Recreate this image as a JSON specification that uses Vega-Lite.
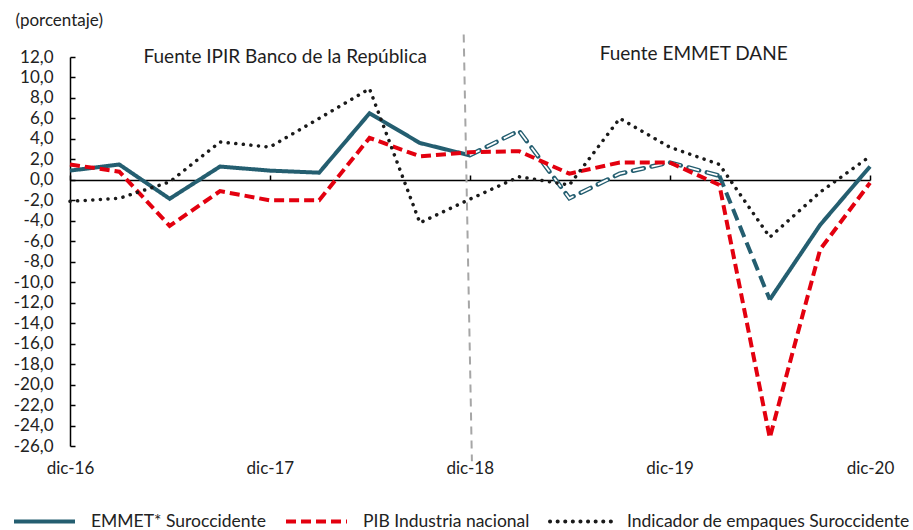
{
  "$schema": "https://vega.github.io/schema/vega-lite/v6.json",
  "width": 800,
  "height": 389,
  "autosize": {"type": "none"},
  "padding": {"left": 70, "top": 57, "right": 43, "bottom": 84},
  "background": "white",
  "config": {
    "font": "Lato",
    "view": {"stroke": null},
    "axis": {"labelFont": "Lato", "labelColor": "#222222", "titleFont": "Lato", "grid": false}
  },
  "datasets": {
    "lineas": [
      {"fecha": "2016-12-01", "serie": "PIB Industria nacional", "valor": 1.5},
      {"fecha": "2017-03-01", "serie": "PIB Industria nacional", "valor": 0.8},
      {"fecha": "2017-06-01", "serie": "PIB Industria nacional", "valor": -4.5},
      {"fecha": "2017-09-01", "serie": "PIB Industria nacional", "valor": -1.1},
      {"fecha": "2017-12-01", "serie": "PIB Industria nacional", "valor": -2.0},
      {"fecha": "2018-03-01", "serie": "PIB Industria nacional", "valor": -2.0},
      {"fecha": "2018-06-01", "serie": "PIB Industria nacional", "valor": 4.1},
      {"fecha": "2018-09-01", "serie": "PIB Industria nacional", "valor": 2.3},
      {"fecha": "2018-12-01", "serie": "PIB Industria nacional", "valor": 2.7},
      {"fecha": "2019-03-01", "serie": "PIB Industria nacional", "valor": 2.8},
      {"fecha": "2019-06-01", "serie": "PIB Industria nacional", "valor": 0.6},
      {"fecha": "2019-09-01", "serie": "PIB Industria nacional", "valor": 1.7},
      {"fecha": "2019-12-01", "serie": "PIB Industria nacional", "valor": 1.7},
      {"fecha": "2020-03-01", "serie": "PIB Industria nacional", "valor": -0.5},
      {"fecha": "2020-06-01", "serie": "PIB Industria nacional", "valor": -25.2},
      {"fecha": "2020-09-01", "serie": "PIB Industria nacional", "valor": -6.8},
      {"fecha": "2020-12-01", "serie": "PIB Industria nacional", "valor": -0.3},
      {"fecha": "2016-12-01", "serie": "Indicador de empaques Suroccidente", "valor": -2.1},
      {"fecha": "2017-03-01", "serie": "Indicador de empaques Suroccidente", "valor": -1.8},
      {"fecha": "2017-06-01", "serie": "Indicador de empaques Suroccidente", "valor": -0.2},
      {"fecha": "2017-09-01", "serie": "Indicador de empaques Suroccidente", "valor": 3.7},
      {"fecha": "2017-12-01", "serie": "Indicador de empaques Suroccidente", "valor": 3.2},
      {"fecha": "2018-03-01", "serie": "Indicador de empaques Suroccidente", "valor": 6.0},
      {"fecha": "2018-06-01", "serie": "Indicador de empaques Suroccidente", "valor": 8.9},
      {"fecha": "2018-09-01", "serie": "Indicador de empaques Suroccidente", "valor": -4.2},
      {"fecha": "2018-12-01", "serie": "Indicador de empaques Suroccidente", "valor": -1.9},
      {"fecha": "2019-03-01", "serie": "Indicador de empaques Suroccidente", "valor": 0.3},
      {"fecha": "2019-06-01", "serie": "Indicador de empaques Suroccidente", "valor": -0.5},
      {"fecha": "2019-09-01", "serie": "Indicador de empaques Suroccidente", "valor": 6.0},
      {"fecha": "2019-12-01", "serie": "Indicador de empaques Suroccidente", "valor": 3.2},
      {"fecha": "2020-03-01", "serie": "Indicador de empaques Suroccidente", "valor": 1.5},
      {"fecha": "2020-06-01", "serie": "Indicador de empaques Suroccidente", "valor": -5.6},
      {"fecha": "2020-09-01", "serie": "Indicador de empaques Suroccidente", "valor": -1.2},
      {"fecha": "2020-12-01", "serie": "Indicador de empaques Suroccidente", "valor": 2.3}
    ],
    "emmet": [
      {"fecha": "2016-12-01", "serie": "EMMET* Suroccidente", "tramo": "a", "valor": 0.9},
      {"fecha": "2017-03-01", "serie": "EMMET* Suroccidente", "tramo": "a", "valor": 1.5},
      {"fecha": "2017-06-01", "serie": "EMMET* Suroccidente", "tramo": "a", "valor": -1.85},
      {"fecha": "2017-09-01", "serie": "EMMET* Suroccidente", "tramo": "a", "valor": 1.3},
      {"fecha": "2017-12-01", "serie": "EMMET* Suroccidente", "tramo": "a", "valor": 0.9},
      {"fecha": "2018-03-01", "serie": "EMMET* Suroccidente", "tramo": "a", "valor": 0.7},
      {"fecha": "2018-06-01", "serie": "EMMET* Suroccidente", "tramo": "a", "valor": 6.5},
      {"fecha": "2018-09-01", "serie": "EMMET* Suroccidente", "tramo": "a", "valor": 3.6},
      {"fecha": "2018-12-01", "serie": "EMMET* Suroccidente", "tramo": "a", "valor": 2.4},
      {"fecha": "2018-12-01", "serie": "EMMET* Suroccidente", "tramo": "b", "valor": 2.4},
      {"fecha": "2019-03-01", "serie": "EMMET* Suroccidente", "tramo": "b", "valor": 4.8},
      {"fecha": "2019-06-01", "serie": "EMMET* Suroccidente", "tramo": "b", "valor": -1.8},
      {"fecha": "2019-09-01", "serie": "EMMET* Suroccidente", "tramo": "b", "valor": 0.6},
      {"fecha": "2019-12-01", "serie": "EMMET* Suroccidente", "tramo": "b", "valor": 1.7},
      {"fecha": "2020-03-01", "serie": "EMMET* Suroccidente", "tramo": "b", "valor": 0.4},
      {"fecha": "2020-03-01", "serie": "EMMET* Suroccidente", "tramo": "c", "valor": 0.4},
      {"fecha": "2020-06-01", "serie": "EMMET* Suroccidente", "tramo": "c", "valor": -11.7},
      {"fecha": "2020-06-01", "serie": "EMMET* Suroccidente", "tramo": "d", "valor": -11.7},
      {"fecha": "2020-09-01", "serie": "EMMET* Suroccidente", "tramo": "d", "valor": -4.4},
      {"fecha": "2020-12-01", "serie": "EMMET* Suroccidente", "tramo": "d", "valor": 1.3}
    ],
    "fuentes": [
      {"fecha": "2017-12-29", "valor": 12.0, "texto": "Fuente IPIR Banco de la República"},
      {"fecha": "2020-01-14", "valor": 12.3, "texto": "Fuente EMMET DANE"}
    ],
    "corte": [
      {"fecha": "2018-11-20", "fecha_fin": "2018-12-05", "valor": 14.2, "valor_fin": -27.5}
    ]
  },
  "encoding": {
    "x": {
      "field": "fecha",
      "type": "temporal",
      "scale": {"type": "utc", "domain": [{"year": 2016, "month": 12, "date": 1, "utc": true}, {"year": 2020, "month": 12, "date": 1, "utc": true}]},
      "axis": {
        "title": null,
        "values": [
          {"year": 2016, "month": 12, "date": 1, "utc": true},
          {"year": 2017, "month": 12, "date": 1, "utc": true},
          {"year": 2018, "month": 12, "date": 1, "utc": true},
          {"year": 2019, "month": 12, "date": 1, "utc": true},
          {"year": 2020, "month": 12, "date": 1, "utc": true}
        ],
        "labelExpr": "'dic-' + utcFormat(datum.value, '%y')",
        "offset": -266,
        "domainColor": "#000000",
        "domainWidth": 1.5,
        "tickColor": "#000000",
        "tickWidth": 1.5,
        "tickSize": -5,
        "labelPadding": 285,
        "labelFontSize": 17,
        "labelFlush": false
      }
    },
    "y": {
      "field": "valor",
      "type": "quantitative",
      "scale": {"domain": [-26, 12], "nice": false, "zero": false},
      "axis": {
        "values": [-26, -24, -22, -20, -18, -16, -14, -12, -10, -8, -6, -4, -2, 0, 2, 4, 6, 8, 10, 12],
        "labelExpr": "(datum.value < 0 ? '-' : '') + replace(format(abs(datum.value), '.1f'), '.', ',')",
        "title": "(porcentaje)",
        "titleAngle": 0,
        "titleAlign": "left",
        "titleBaseline": "middle",
        "titleX": -55,
        "titleY": -37,
        "titleFontSize": 17,
        "titleFontWeight": "normal",
        "titleColor": "#222222",
        "domainColor": "#000000",
        "domainWidth": 1.5,
        "tickColor": "#000000",
        "tickWidth": 1.5,
        "tickSize": -5,
        "labelPadding": 22,
        "labelFontSize": 17
      }
    }
  },
  "layer": [
    {
      "data": {"name": "emmet"},
      "transform": [{"filter": "datum.tramo === 'a' || datum.tramo === 'd'"}],
      "mark": {"type": "line", "strokeWidth": 4, "strokeJoin": "miter"},
      "encoding": {
        "detail": {"field": "tramo"},
        "color": {
          "field": "serie",
          "type": "nominal",
          "scale": {"domain": ["EMMET* Suroccidente", "PIB Industria nacional", "Indicador de empaques Suroccidente"], "range": ["#245e70", "#e3000f", "#1a1a1a"]},
          "legend": {
            "title": null,
            "orient": "none",
            "legendX": -58,
            "legendY": 432,
            "direction": "horizontal",
            "symbolType": "stroke",
            "symbolSize": 3721,
            "symbolStrokeWidth": 4,
            "labelFontSize": 17.5,
            "labelColor": "#222222",
            "labelOffset": 14,
            "columnPadding": 12,
            "padding": 0,
            "labelLimit": 400,
            "encode": {"symbols": {"update": {"strokeCap": {"signal": "datum.value === 'Indicador de empaques Suroccidente' ? 'round' : 'butt'"}}}}
          }
        },
        "strokeDash": {
          "field": "serie",
          "type": "nominal",
          "scale": {"domain": ["EMMET* Suroccidente", "PIB Industria nacional", "Indicador de empaques Suroccidente"], "range": [[1, 0], [10, 5], [0.1, 7.5]]},
          "legend": null
        }
      }
    },
    {
      "data": {"name": "emmet"},
      "transform": [{"filter": "datum.tramo === 'b'"}],
      "mark": {"type": "line", "strokeWidth": 4.5, "color": "#245e70", "strokeDash": [11, 8], "strokeCap": "round"},
      "encoding": {}
    },
    {
      "data": {"name": "emmet"},
      "transform": [{"filter": "datum.tramo === 'b'"}],
      "mark": {"type": "line", "strokeWidth": 1.8, "color": "#ffffff", "strokeDash": [11, 8], "strokeCap": "butt"},
      "encoding": {}
    },
    {
      "data": {"name": "emmet"},
      "transform": [{"filter": "datum.tramo === 'c'"}],
      "mark": {"type": "line", "strokeWidth": 4, "color": "#245e70", "strokeDash": [12, 6]},
      "encoding": {}
    },
    {
      "data": {"name": "lineas"},
      "transform": [{"filter": "datum.serie === 'PIB Industria nacional'"}],
      "mark": {"type": "line", "strokeWidth": 4},
      "encoding": {
        "color": {"field": "serie", "type": "nominal"},
        "strokeDash": {"field": "serie", "type": "nominal", "legend": null}
      }
    },
    {
      "data": {"name": "lineas"},
      "transform": [{"filter": "datum.serie === 'Indicador de empaques Suroccidente'"}],
      "mark": {"type": "line", "strokeWidth": 3.5, "strokeCap": "round"},
      "encoding": {
        "color": {"field": "serie", "type": "nominal"},
        "strokeDash": {"field": "serie", "type": "nominal", "legend": null}
      }
    },
    {
      "data": {"name": "corte"},
      "mark": {"type": "rule", "color": "#a6a6a6", "strokeWidth": 2, "strokeDash": [8, 6]},
      "encoding": {
        "x2": {"field": "fecha_fin"},
        "y2": {"field": "valor_fin"}
      }
    },
    {
      "data": {"name": "fuentes"},
      "mark": {"type": "text", "fontSize": 19, "color": "#1e1e1e", "align": "center", "baseline": "middle"},
      "encoding": {
        "text": {"field": "texto", "type": "nominal"}
      }
    }
  ]
}
